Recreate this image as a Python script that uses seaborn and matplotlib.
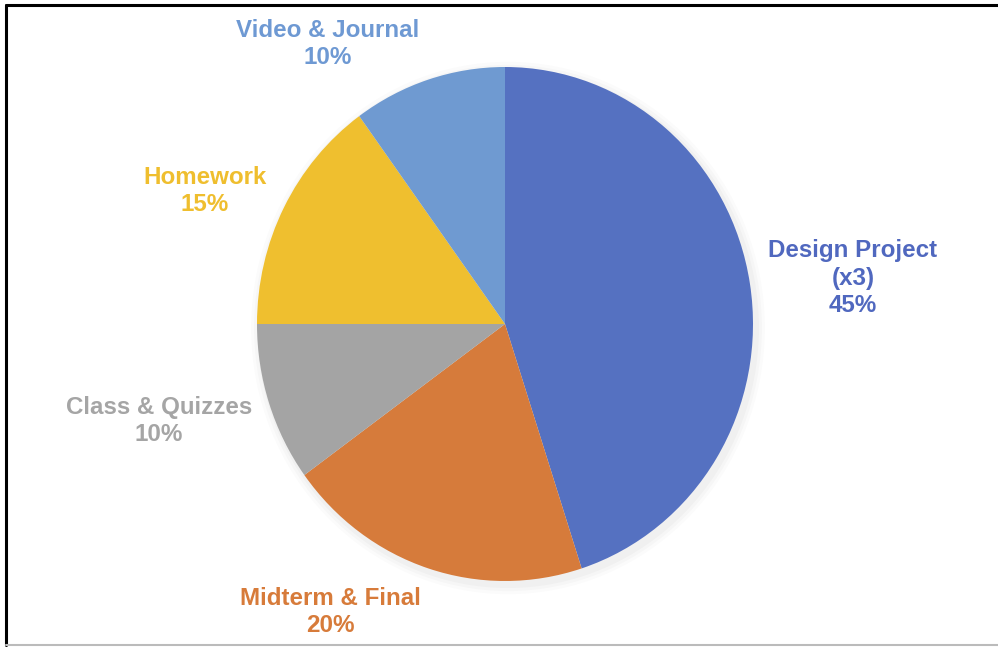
import matplotlib
matplotlib.use("Agg")
import matplotlib.pyplot as plt
import seaborn as sns
from matplotlib.lines import Line2D

categories = ["Design Project\n(x3)", "Midterm & Final", "Class & Quizzes", "Homework", "Video & Journal"]
values = [45, 20, 10, 15, 10]
colors = ["#5571C1", "#D67B3B", "#A4A4A4", "#EFBF2F", "#6F9AD1"]
text_colors = ["#5068BF", "#D77B3A", "#A5A5A5", "#EFBE2E", "#6E99D3"]
# label centre positions in figure pixels (x, y from top) -- layout only
label_pos = [(853, 278), (330, 612), (159, 421), (205, 191), (328, 44)]

sns.set_theme(style="white")
plt.rcParams["font.family"] = ["Liberation Sans", "DejaVu Sans"]

W, H = 998, 647
fig = plt.figure(figsize=(W / 100, H / 100), dpi=100)
fig.patch.set_facecolor("white")

cx, cy, rx, ry = 505, 324, 248, 257
ax = fig.add_axes([(cx - rx) / W, (H - (cy + ry)) / H, 2 * rx / W, 2 * ry / H])

# faint shadow
shadow_ax = fig.add_axes([(cx - rx + 3) / W, (H - (cy + ry + 4)) / H, 2 * rx / W, 2 * ry / H], zorder=0)
for i, a in enumerate([0.025, 0.02, 0.015]):
    shadow_ax.pie([1], colors=["#000000"], radius=1.0 + 0.012 * (i + 1),
                  wedgeprops=dict(alpha=a, linewidth=0))
shadow_ax.set_aspect("auto")
shadow_ax.set_xlim(-1, 1)
shadow_ax.set_ylim(-1, 1)
shadow_ax.axis("off")

ax.set_zorder(1)
ax.pie(values, colors=colors, startangle=90, counterclock=False,
       wedgeprops=dict(linewidth=0))
ax.set_aspect("auto")
ax.set_xlim(-1, 1)
ax.set_ylim(-1, 1)
ax.axis("off")

for cat, val, col, (px, py) in zip(categories, values, text_colors, label_pos):
    fig.text(px / W, 1 - py / H, f"{cat}\n{val}%", ha="center", va="center",
             color=col, fontsize=17.4, fontweight="bold", linespacing=1.26)

# frame lines
fig.add_artist(Line2D([6 / W, 1], [1 - 5 / H, 1 - 5 / H], color="black", linewidth=2.2, transform=fig.transFigure))
fig.add_artist(Line2D([6 / W, 6 / W], [1 - 5 / H, 1 - 645 / H], color="black", linewidth=2.2, transform=fig.transFigure))
fig.add_artist(Line2D([6 / W, 1], [1 - 645 / H, 1 - 645 / H], color="#BBBBBB", linewidth=1.5, transform=fig.transFigure))

fig.savefig("out.png", dpi=100, facecolor="white")
